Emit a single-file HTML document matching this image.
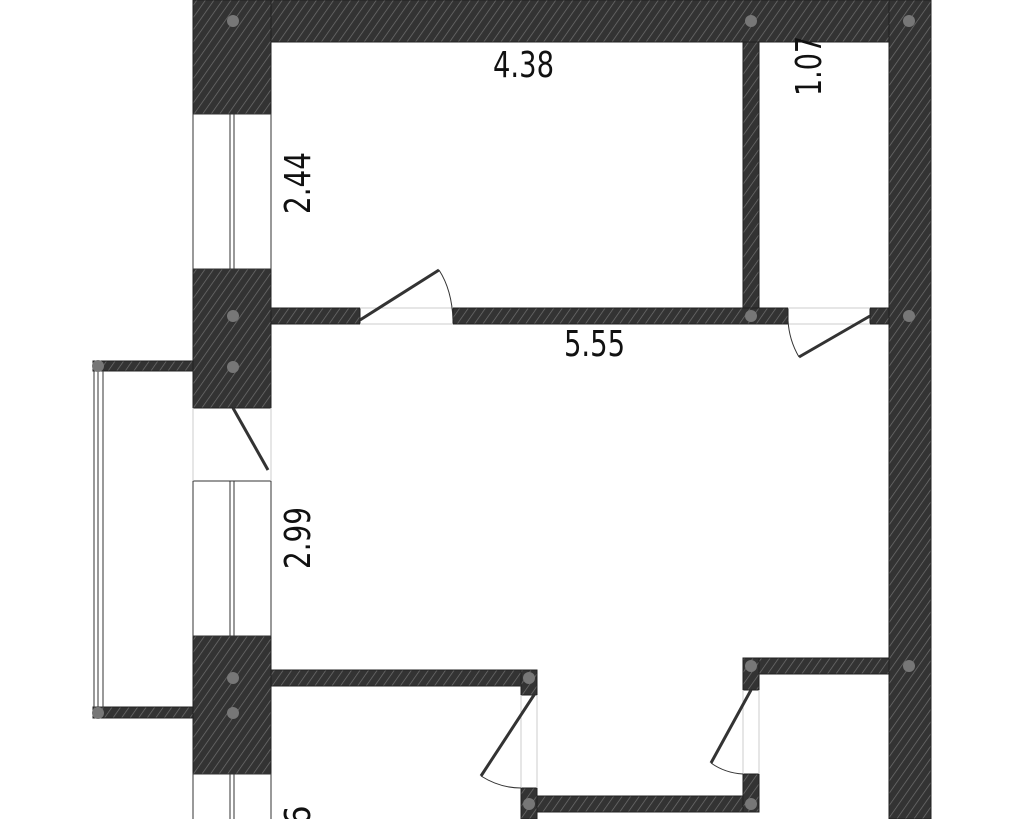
<!DOCTYPE html>
<html><head><meta charset="utf-8"><style>
html,body{margin:0;padding:0;background:#fff;width:1024px;height:819px;overflow:hidden}
svg{display:block}
text{font-family:"DejaVu Sans Condensed","DejaVu Sans","Liberation Sans",sans-serif;fill:#111}
</style></head><body>
<svg width="1024" height="819" viewBox="0 0 1024 819" xmlns="http://www.w3.org/2000/svg">
<defs>
<pattern id="h" width="7" height="7" patternUnits="userSpaceOnUse" patternTransform="rotate(35)">
<rect width="7" height="7" fill="#333"/>
<line x1="0" y1="0" x2="0" y2="7" stroke="#707070" stroke-width="1.4"/>
</pattern>
</defs>
<g fill="url(#h)" stroke="#222" stroke-width="1">
<rect x="193" y="0" width="738" height="42"/>
<rect x="889" y="0" width="42" height="819"/>
<rect x="193" y="0" width="78" height="114"/>
<rect x="193" y="269" width="78" height="139"/>
<rect x="193" y="636" width="78" height="138"/>
<rect x="743" y="42" width="16" height="266"/>
<rect x="271" y="308" width="89" height="16"/>
<rect x="453" y="308" width="335" height="16"/>
<rect x="870" y="308" width="19" height="16"/>
<rect x="93" y="361" width="100" height="10"/>
<rect x="93" y="707" width="100" height="11"/>
<rect x="271" y="670" width="266" height="16"/>
<rect x="521" y="670" width="16" height="25"/>
<rect x="521" y="788" width="16" height="31"/>
<rect x="537" y="796" width="222" height="16"/>
<rect x="743" y="658" width="146" height="16"/>
<rect x="743" y="658" width="16" height="32"/>
<rect x="743" y="774" width="16" height="38"/>
</g>
<g fill="#fff" stroke="#333" stroke-width="1">
<rect x="193" y="114" width="78" height="155"/>
<rect x="193" y="481" width="78" height="155"/>
<rect x="193" y="774" width="78" height="50"/>
<rect x="230" y="114" width="4" height="155"/>
<rect x="230" y="481" width="4" height="155"/>
<rect x="230" y="774" width="4" height="50"/>
<rect x="94" y="371" width="9" height="336"/>
</g>
<g stroke="#333" stroke-width="1"><line x1="98" y1="371" x2="98" y2="707"/></g>
<g stroke="#ccc" stroke-width="1" fill="none">
<line x1="360" y1="308" x2="453" y2="308"/><line x1="360" y1="324" x2="453" y2="324"/>
<line x1="788" y1="308" x2="870" y2="308"/><line x1="788" y1="324" x2="870" y2="324"/>
<line x1="193" y1="408" x2="193" y2="481"/><line x1="271" y1="408" x2="271" y2="481"/>
<line x1="521" y1="695" x2="521" y2="788"/><line x1="537" y1="695" x2="537" y2="788"/>
<line x1="743" y1="690" x2="743" y2="774"/><line x1="759" y1="690" x2="759" y2="774"/>
</g>
<g stroke="#333" stroke-width="3" fill="none">
<line x1="360" y1="320" x2="439" y2="270"/>
<line x1="870" y1="316" x2="799" y2="357"/>
<line x1="233" y1="408" x2="268" y2="470"/>
<line x1="534" y1="695" x2="481" y2="776"/>
<line x1="751" y1="690" x2="711" y2="763"/>
</g>
<g stroke="#333" stroke-width="1" fill="none">
<path d="M439 270 Q452 290 453 320"/>
<path d="M799 357 Q789 340 788 320"/>
<path d="M481 776 Q500 788 521 788"/>
<path d="M711 763 Q725 773 743 774"/>
</g>
<g fill="#777">
<circle cx="233" cy="21" r="6"/><circle cx="751" cy="21" r="6"/><circle cx="909" cy="21" r="6"/>
<circle cx="233" cy="316" r="6"/><circle cx="751" cy="316" r="6"/><circle cx="909" cy="316" r="6"/>
<circle cx="233" cy="367" r="6"/><circle cx="98" cy="366" r="6"/>
<circle cx="233" cy="678" r="6"/><circle cx="233" cy="713" r="6"/><circle cx="98" cy="713" r="6"/>
<circle cx="529" cy="678" r="6"/><circle cx="751" cy="666" r="6"/><circle cx="909" cy="666" r="6"/>
<circle cx="529" cy="804" r="6"/><circle cx="751" cy="804" r="6"/>
</g>
<text x="493" y="77" font-size="36" textLength="61" lengthAdjust="spacingAndGlyphs">4.38</text>
<text x="564" y="356" font-size="36" textLength="61" lengthAdjust="spacingAndGlyphs">5.55</text>
<text transform="translate(310,214) rotate(-90)" font-size="36" textLength="62" lengthAdjust="spacingAndGlyphs">2.44</text>
<text transform="translate(310,569) rotate(-90)" font-size="36" textLength="62" lengthAdjust="spacingAndGlyphs">2.99</text>
<text transform="translate(821,96) rotate(-90)" font-size="36" textLength="60" lengthAdjust="spacingAndGlyphs">1.07</text>
<text transform="translate(310,826) rotate(-90)" font-size="36">6</text>
</svg>
</body></html>
